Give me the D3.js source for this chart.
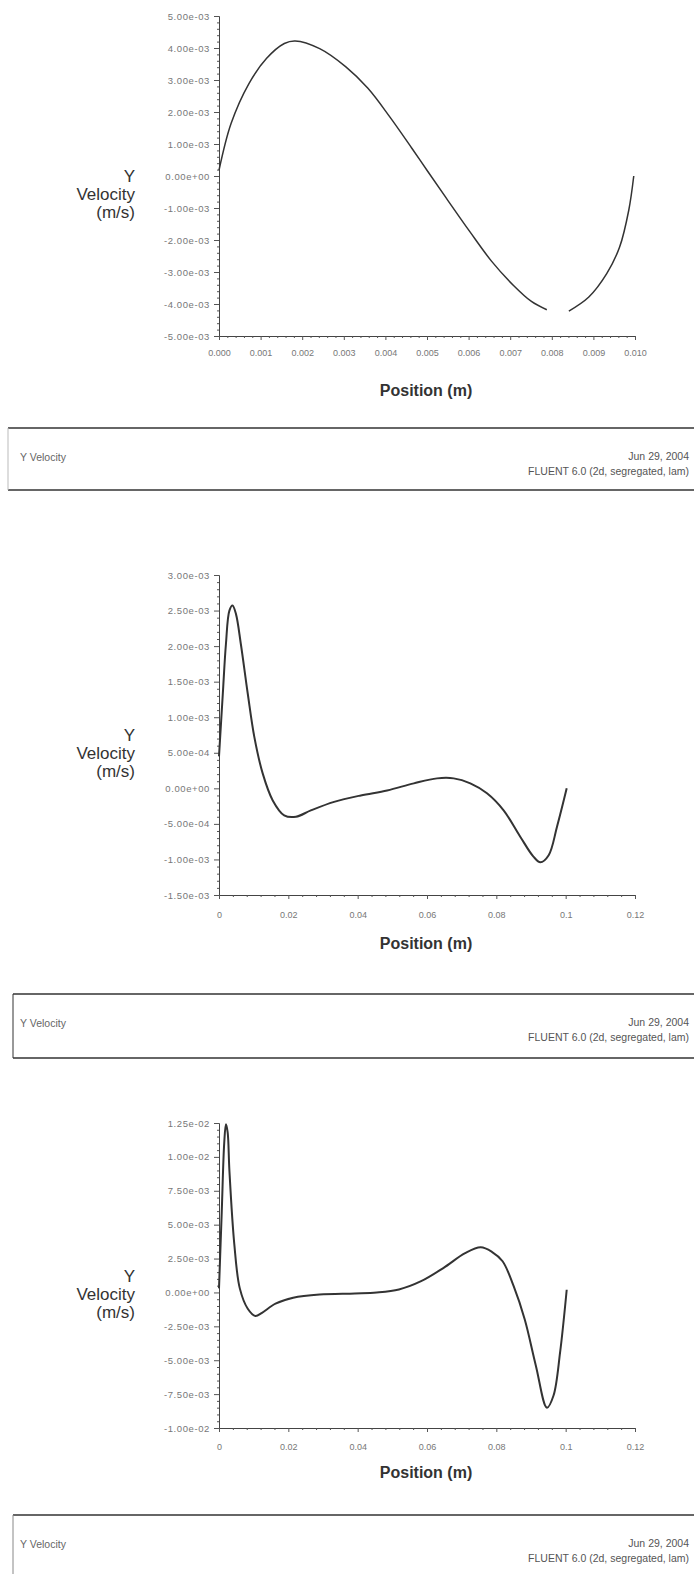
<!DOCTYPE html>
<html>
<head>
<meta charset="utf-8">
<script src="https://cdn.jsdelivr.net/npm/d3@7"></script>
<style>
  body { margin: 0; background: #fff; }
  svg { display: block; font-family: "Liberation Sans", Arial, sans-serif; }
  .tick text { fill: #777; }
</style>
</head>
<body>
<svg id="svg"></svg>
<script>
// ---- data (velocity in m/s) ----
const topPos = [0, 0.00029, 0.00072, 0.00114, 0.00157, 0.00183, 0.00242, 0.00305, 0.00358, 0.00411,
  0.00464, 0.00502, 0.0055, 0.00603, 0.00655, 0.00708, 0.00751, 0.00788, 0.0081,
  0.00841, 0.00889, 0.00932, 0.00963, 0.00985, 0.00997];
// null = hole in the plotted curve
const topVel = [0.18e-3, 1.64e-3, 2.89e-3, 3.67e-3, 4.14e-3, 4.22e-3, 3.98e-3, 3.41e-3, 2.74e-3, 1.84e-3,
  0.86e-3, 0.14e-3, -0.76e-3, -1.74e-3, -2.66e-3, -3.42e-3, -3.92e-3, -4.18e-3, null,
  -4.22e-3, -3.78e-3, -3.05e-3, -2.22e-3, -1.07e-3, 0];

const midPos = [0, 0.0011, 0.002, 0.003, 0.0039, 0.0049, 0.0063, 0.0083, 0.0102, 0.0126,
  0.0155, 0.0188, 0.0222, 0.0265, 0.0332, 0.0409, 0.0485, 0.0562, 0.0629, 0.0677,
  0.0725, 0.0773, 0.0821, 0.0869, 0.0907, 0.0927, 0.0951, 0.0975, 0.1003];
const midVel = [0.45e-3, 1.33e-3, 2.03e-3, 2.5e-3, 2.57e-3, 2.45e-3, 2.03e-3, 1.33e-3, 0.72e-3, 0.21e-3,
  -0.17e-3, -0.38e-3, -0.40e-3, -0.31e-3, -0.19e-3, -0.10e-3, -0.03e-3, 0.07e-3, 0.14e-3, 0.14e-3,
  0.07e-3, -0.07e-3, -0.31e-3, -0.68e-3, -0.96e-3, -1.04e-3, -0.94e-3, -0.54e-3, 0];

const botPos = [0, 0.0008, 0.0015, 0.002, 0.0025, 0.003, 0.0044, 0.006, 0.0083, 0.0105,
  0.0124, 0.0163, 0.0214, 0.029, 0.0392, 0.0455, 0.0519, 0.0583, 0.0647, 0.071,
  0.0755, 0.0787, 0.0818, 0.085, 0.0882, 0.0914, 0.0946, 0.0965, 0.0984, 0.1003];
const botVel = [0.3e-3, 6.0e-3, 11.0e-3, 12.4e-3, 11.8e-3, 9.0e-3, 3.6e-3, 0.3e-3, -1.2e-3, -1.74e-3,
  -1.5e-3, -0.83e-3, -0.39e-3, -0.15e-3, -0.07e-3, 0, 0.22e-3, 0.83e-3, 1.8e-3, 2.9e-3,
  3.33e-3, 3.0e-3, 2.3e-3, 0.46e-3, -2.0e-3, -5.4e-3, -8.5e-3, -7.6e-3, -4.4e-3, 0.2e-3];

// ---- ticks ----
const topXTicks = [0, 0.001, 0.002, 0.003, 0.004, 0.005, 0.006, 0.007, 0.008, 0.009, 0.010];
const topXLabels = ["0.000", "0.001", "0.002", "0.003", "0.004", "0.005", "0.006", "0.007", "0.008", "0.009", "0.010"];
const topYTicks = [5e-3, 4e-3, 3e-3, 2e-3, 1e-3, 0, -1e-3, -2e-3, -3e-3, -4e-3, -5e-3];
const topYLabels = ["5.00e-03", "4.00e-03", "3.00e-03", "2.00e-03", "1.00e-03", "0.00e+00",
  "-1.00e-03", "-2.00e-03", "-3.00e-03", "-4.00e-03", "-5.00e-03"];

const posXTicks = [0, 0.02, 0.04, 0.06, 0.08, 0.1, 0.12];
const posXLabels = ["0", "0.02", "0.04", "0.06", "0.08", "0.1", "0.12"];

const midYTicks = [3e-3, 2.5e-3, 2e-3, 1.5e-3, 1e-3, 5e-4, 0, -5e-4, -1e-3, -1.5e-3];
const midYLabels = ["3.00e-03", "2.50e-03", "2.00e-03", "1.50e-03", "1.00e-03", "5.00e-04",
  "0.00e+00", "-5.00e-04", "-1.00e-03", "-1.50e-03"];

const botYTicks = [1.25e-2, 1e-2, 7.5e-3, 5e-3, 2.5e-3, 0, -2.5e-3, -5e-3, -7.5e-3, -1e-2];
const botYLabels = ["1.25e-02", "1.00e-02", "7.50e-03", "5.00e-03", "2.50e-03", "0.00e+00",
  "-2.50e-03", "-5.00e-03", "-7.50e-03", "-1.00e-02"];

const footTitle = "Y Velocity";
const footDate = "Jun 29, 2004";
const footSolver = "FLUENT 6.0 (2d, segregated, lam)";

const W = 694, H = 1574;
const svg = d3.select('#svg').attr('width', W).attr('height', H);
svg.append('rect').attr('width', W).attr('height', H).attr('fill', '#fff');

// minor tick values between majors
const minors = (ticks, n) => {
  const s = ticks.slice().sort((a, b) => a - b);
  const out = [];
  for (let i = 0; i < s.length - 1; i++) {
    for (let k = 1; k < n; k++) out.push(s[i] + (s[i + 1] - s[i]) * k / n);
  }
  return out;
};

const drawChart = (c) => {
  const x = d3.scaleLinear().domain(c.xDomain).range([219, 635]);
  const y = d3.scaleLinear().domain(c.yDomain).range([c.yBottom, c.yTop]);
  const g = svg.append('g');

  // y axis
  const ya = g.append('g').attr('transform', 'translate(219,0)')
    .call(d3.axisLeft(y).tickValues(c.yTicks).tickFormat((d, i) => c.yLabels[i]).tickSize(5).tickPadding(4));
  ya.selectAll('text').style('font-size', '9.5px').style('letter-spacing', '0.6px');
  g.append('g').attr('transform', 'translate(219,0)')
    .call(d3.axisLeft(y).tickValues(minors(c.yTicks, 5)).tickFormat('').tickSize(2))
    .call(s => s.select('.domain').remove());

  // x axis
  const xa = g.append('g').attr('transform', `translate(0,${c.yBottom})`)
    .call(d3.axisBottom(x).tickValues(c.xTicks).tickFormat((d, i) => c.xLabels[i]).tickSize(4).tickPadding(c.xPad));
  xa.selectAll('text').style('font-size', '9px');
  g.append('g').attr('transform', `translate(0,${c.yBottom})`)
    .call(d3.axisBottom(x).tickValues(minors(c.xTicks, 5)).tickFormat('').tickSize(2))
    .call(s => s.select('.domain').remove());

  g.selectAll('.domain').attr('stroke', '#444');
  g.selectAll('.tick line').attr('stroke', '#555');

  // curve
  const pts = c.pos.map((p, i) => ({ x: p, v: c.vel[i] }));
  g.append('path')
    .datum(pts)
    .attr('d', d3.line()
      .defined(d => d.v !== null)
      .curve(d3.curveCatmullRom.alpha(0.5))
      .x(d => x(d.x))
      .y(d => y(d.v)))
    .attr('fill', 'none')
    .attr('stroke', '#333')
    .attr('stroke-width', c.lw);

  // axis titles
  const mid = (c.yTop + c.yBottom) / 2;
  ['Y', 'Velocity', '(m/s)'].forEach((t, i) => {
    g.append('text')
      .attr('x', 135).attr('y', mid + 6 + i * 18)
      .attr('text-anchor', 'end')
      .attr('fill', '#333')
      .style('font-size', '17px')
      .text(t);
  });
  g.append('text')
    .attr('x', 426).attr('y', c.titleY)
    .attr('text-anchor', 'middle')
    .attr('fill', '#333')
    .style('font-size', '16px')
    .style('font-weight', 'bold')
    .text('Position (m)');

  // footer box
  const f = c.foot;
  g.append('line').attr('x1', f.left).attr('x2', W).attr('y1', f.top).attr('y2', f.top)
    .attr('stroke', '#333').attr('stroke-width', 1.5);
  g.append('line').attr('x1', f.left).attr('x2', W).attr('y1', f.bottom).attr('y2', f.bottom)
    .attr('stroke', '#333').attr('stroke-width', 1.5);
  g.append('line').attr('x1', f.left).attr('x2', f.left).attr('y1', f.top).attr('y2', f.bottom)
    .attr('stroke', f.leftColor).attr('stroke-width', 1);
  g.append('text').attr('x', 20).attr('y', f.top + 33)
    .attr('fill', '#666').style('font-size', '10.5px').text(footTitle);
  g.append('text').attr('x', 689).attr('y', f.top + 32).attr('text-anchor', 'end')
    .attr('fill', '#555').style('font-size', '10.5px').text(footDate);
  g.append('text').attr('x', 689).attr('y', f.top + 47).attr('text-anchor', 'end')
    .attr('fill', '#555').style('font-size', '10.5px').text(footSolver);
};

drawChart({
  pos: topPos, vel: topVel,
  xDomain: [0, 0.010], yDomain: [-5e-3, 5e-3],
  yTop: 16, yBottom: 336,
  xTicks: topXTicks, xLabels: topXLabels, xPad: 10,
  yTicks: topYTicks, yLabels: topYLabels,
  titleY: 396, lw: 1.5,
  foot: { left: 8, top: 428, bottom: 490, leftColor: '#bbb' }
});

drawChart({
  pos: midPos, vel: midVel,
  xDomain: [0, 0.12], yDomain: [-1.5e-3, 3e-3],
  yTop: 575, yBottom: 895,
  xTicks: posXTicks, xLabels: posXLabels, xPad: 13,
  yTicks: midYTicks, yLabels: midYLabels,
  titleY: 949, lw: 2,
  foot: { left: 13, top: 994, bottom: 1058, leftColor: '#333' }
});

drawChart({
  pos: botPos, vel: botVel,
  xDomain: [0, 0.12], yDomain: [-1e-2, 1.25e-2],
  yTop: 1123, yBottom: 1428,
  xTicks: posXTicks, xLabels: posXLabels, xPad: 12,
  yTicks: botYTicks, yLabels: botYLabels,
  titleY: 1478, lw: 2,
  foot: { left: 13, top: 1515, bottom: 1590, leftColor: '#888' }
});
</script>
</body>
</html>
